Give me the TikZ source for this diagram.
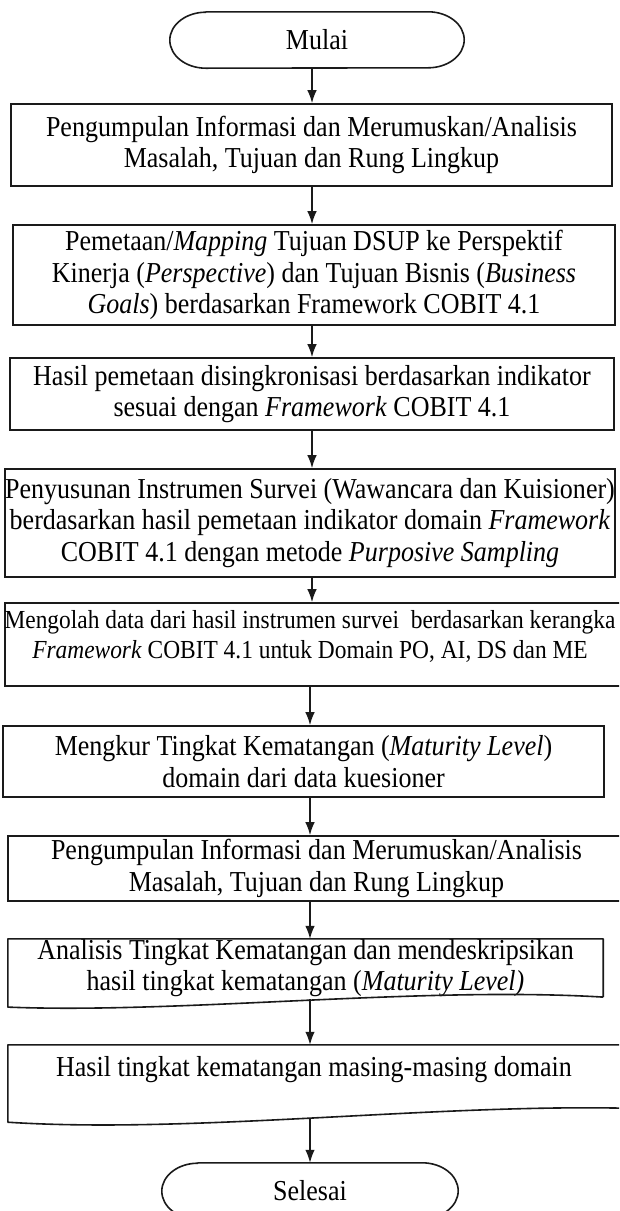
\documentclass[tikz,border=0pt]{standalone}
\usepackage{fontspec}
\setmainfont[FakeStretch=0.9]{Liberation Serif}
\usetikzlibrary{arrows.meta,calc}
\definecolor{ink}{HTML}{1A1A1A}
\begin{document}
\begin{tikzpicture}[x=1pt,y=1pt,
  box/.style={draw=ink, line width=1.6pt, rectangle, inner sep=0pt, align=center, font=\fontsize{28.9}{31.5}\selectfont},
  txt/.style={inner sep=0pt, align=center, font=\fontsize{28.9}{31.5}\selectfont},
  smalltxt/.style={inner sep=0pt, align=center, font=\fontsize{26}{30}\selectfont},
  outline/.style={draw=ink, line width=1.6pt, line join=round},
  arr/.style={draw=ink, line width=1.5pt, -{Latex[length=13pt,width=9.5pt]}}]
\useasboundingbox (0,0) rectangle (619,-1211);
\clip (0,0) rectangle (619,-1211);
\fill[white] (0,0) rectangle (619,-1211);

\coordinate (ax1) at (312,0);
\coordinate (ax2) at (310,0);

% Start terminal
\node[txt, minimum width=294pt, minimum height=56pt] (start) at (317,-40) {Mulai};
\draw[outline] ($(start.north west)+(36,0)$) -- ($(start.north east)+(-36,0)$)
  arc[start angle=90,end angle=-90,x radius=36,y radius=28]
  -- ($(start.south west)+(36,0)$)
  arc[start angle=270,end angle=90,x radius=36,y radius=28] -- cycle;

\node[box, minimum width=601pt, minimum height=82pt] (b1) at (311.5,-145)
  {Pengumpulan Informasi dan Merumuskan/Analisis\\Masalah, Tujuan dan Rung Lingkup};

\node[box, minimum width=602pt, minimum height=100pt] (b2) at (314,-275)
  {Pemetaan/\textit{Mapping} Tujuan DSUP ke Perspektif\\Kinerja (\textit{Perspective}) dan Tujuan Bisnis (\textit{Business}\\\textit{Goals}) berdasarkan Framework COBIT 4.1};

\node[box, minimum width=604pt, minimum height=72pt] (b3) at (312,-394)
  {Hasil pemetaan disingkronisasi berdasarkan indikator\\sesuai dengan \textit{Framework} COBIT 4.1};

\node[box, minimum width=604pt, minimum height=108pt] (b4) at (310,-523)
  {Penyusunan Instrumen Survei (Wawancara dan Kuisioner)\\berdasarkan hasil pemetaan indikator domain \textit{Framework}\\COBIT 4.1 dengan metode \textit{Purposive Sampling}};

\node[box, minimum width=620pt, minimum height=83pt] (b5) at (315,-644.5) {};
\node[smalltxt] (t5) at (310,-636)
  {Mengolah data dari hasil instrumen survei~ berdasarkan kerangka\\\textit{Framework} COBIT 4.1 untuk Domain PO, AI, DS dan ME};

\node[box, minimum width=601pt, minimum height=71pt] (b6) at (303.5,-761.5)
  {Mengkur Tingkat Kematangan (\textit{Maturity Level})\\domain dari data kuesioner};

\node[box, minimum width=617pt, minimum height=65pt] (b7) at (316.5,-868.5)
  {Pengumpulan Informasi dan Merumuskan/Analisis\\Masalah, Tujuan dan Rung Lingkup};

% Document shape 8
\node[txt, minimum width=595pt, minimum height=48pt] (b8) at (305.5,-968)
  {Analisis Tingkat Kematangan dan mendeskripsikan\\hasil tingkat kematangan (\textit{Maturity Level)}};
\draw[outline] (b8.south east) -- (b8.north east) -- (b8.north west) -- ($(b8.south west)+(0,-10)$)
  .. controls (180,-1014) and (420,-986) .. (b8.south east);
\coordinate (b8out) at (310,-999);

% Document shape 9
\node[minimum width=617pt, minimum height=63pt, inner sep=0pt] (b9) at (316.5,-1076.5) {};
\node[txt] (t9) at (314,-1070) {Hasil tingkat kematangan masing-masing domain};
\draw[outline] (b9.south east) -- (b9.north east) -- (b9.north west) -- ($(b9.south west)+(0,-14)$)
  .. controls (190,-1134) and (430,-1104) .. (b9.south east);
\coordinate (b9out) at (310,-1118);

% End terminal
\node[txt, minimum width=296pt, minimum height=56pt] (end) at (310,-1191) {Selesai};
\draw[outline] ($(end.north west)+(36,0)$) -- ($(end.north east)+(-36,0)$)
  arc[start angle=90,end angle=-90,x radius=36,y radius=28]
  -- ($(end.south west)+(36,0)$)
  arc[start angle=270,end angle=90,x radius=36,y radius=28] -- cycle;

% Connectors
\draw[arr] (start.south -| ax1) -- (b1.north -| ax1);
\draw[arr] (b1.south -| ax1) -- (b2.north -| ax1);
\draw[arr] (b2.south -| ax1) -- (b3.north -| ax1);
\draw[arr] (b3.south -| ax1) -- (b4.north -| ax1);
\draw[arr] (b4.south -| ax1) -- (b5.north -| ax1);
\draw[arr] (b5.south -| ax2) -- (b6.north -| ax2);
\draw[arr] (b6.south -| ax2) -- (b7.north -| ax2);
\draw[arr] (b7.south -| ax2) -- (b8.north -| ax2);
\draw[arr] (b8out) -- (b9.north -| ax2);
\draw[arr] (b9out) -- (end.north -| ax2);
\end{tikzpicture}
\end{document}
